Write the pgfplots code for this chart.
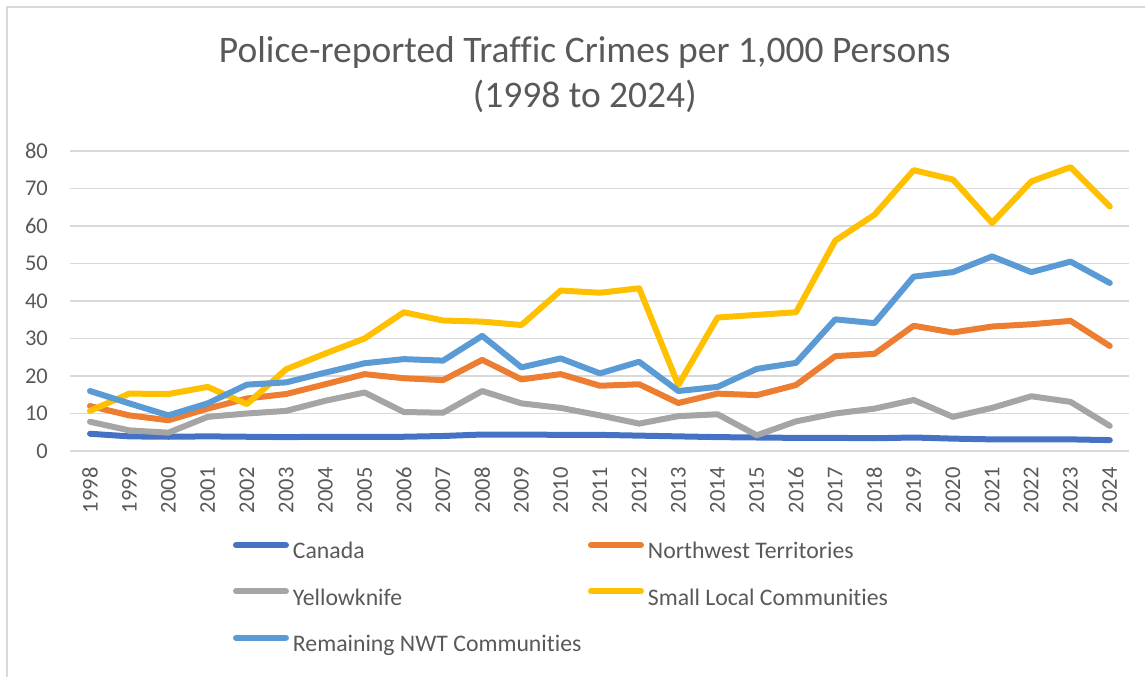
\documentclass[border=0pt]{standalone}
\usepackage{fontspec}
\setmainfont{Carlito}[Ligatures={NoCommon}]
\usepackage{pgfplots}
\pgfplotsset{compat=1.18}
\definecolor{cCan}{HTML}{4472C4}
\definecolor{cNWT}{HTML}{ED7D31}
\definecolor{cYK}{HTML}{A5A5A5}
\definecolor{cSLC}{HTML}{FFC000}
\definecolor{cRem}{HTML}{5B9BD5}
\definecolor{txt}{HTML}{595959}
\definecolor{grd}{HTML}{D9D9D9}
\begin{document}
\begin{tikzpicture}
\useasboundingbox (0,0) rectangle (458pt,270.8pt);
\draw[grd, line width=0.5pt] (2.8pt,0) -- (2.8pt,268pt) -- (458pt,268pt);
\node[anchor=base, text=txt, font=\fontsize{15}{18}\selectfont, inner sep=0pt] at (233.9pt,245.6pt) {Police-reported Traffic Crimes per 1,000 Persons};
\node[anchor=base, text=txt, font=\fontsize{15}{18}\selectfont, inner sep=0pt] at (233.9pt,227.6pt) {(1998 to 2024)};
\begin{axis}[
  at={(28.16pt,90.4pt)}, anchor=south west,
  scale only axis, width=423.6pt, height=120pt,
  xmin=1997.5, xmax=2024.5, ymin=0, ymax=80,
  xtick={1998,1999,...,2024}, ytick={0,10,...,80},
  axis line style={draw=none},
  major tick length=0pt,
  ymajorgrids, grid style={grd, line width=0.5pt},
  /pgf/number format/assume math mode=true,
  /pgf/number format/1000 sep={},
  tick label style={text=txt, font=\fontsize{9}{11}\selectfont},
  yticklabel style={anchor=east, inner sep=0pt},
  yticklabel shift=8.8pt,
  xticklabel style={rotate=90, anchor=east, inner sep=0pt},
  xticklabel shift=6.4pt,
  legend columns=2,
  legend cell align=left,
  legend style={draw=none, fill=none, inner sep=0pt, outer sep=0pt,
    at={(0.1535,-0.303)}, anchor=north west,
    font=\fontsize{9.5}{11}\selectfont, text=txt,
    nodes={inner sep=0pt, text height=6.8pt, text depth=2pt},
    row sep=9.7pt,
    /tikz/every odd column/.append style={column sep=1.6pt},
    /tikz/every even column/.append style={column sep=2.6pt}},
  legend image code/.code={\draw[#1, line width=2.4pt, line cap=round] (1.2pt,3.1pt) -- (21.2pt,3.1pt);},
  every axis plot/.append style={line width=2.4pt, line join=round, line cap=round, no markers},
]
\addplot[cCan] coordinates {(1998,4.6)(1999,3.9)(2000,3.8)(2001,3.9)(2002,3.8)(2003,3.7)(2004,3.8)(2005,3.8)(2006,3.8)(2007,4.0)(2008,4.4)(2009,4.4)(2010,4.3)(2011,4.3)(2012,4.1)(2013,3.9)(2014,3.7)(2015,3.6)(2016,3.5)(2017,3.5)(2018,3.4)(2019,3.6)(2020,3.3)(2021,3.1)(2022,3.1)(2023,3.1)(2024,2.9)};
\addlegendentry{Canada}
\addplot[cNWT] coordinates {(1998,12.0)(1999,9.5)(2000,8.2)(2001,11.3)(2002,14.0)(2003,15.2)(2004,17.8)(2005,20.5)(2006,19.4)(2007,18.9)(2008,24.3)(2009,19.1)(2010,20.5)(2011,17.4)(2012,17.8)(2013,12.8)(2014,15.3)(2015,14.9)(2016,17.6)(2017,25.3)(2018,25.9)(2019,33.4)(2020,31.6)(2021,33.2)(2022,33.8)(2023,34.7)(2024,28.0)};
\addlegendentry{Northwest Territories}
\addplot[cYK] coordinates {(1998,7.8)(1999,5.5)(2000,4.9)(2001,9.1)(2002,10.0)(2003,10.7)(2004,13.4)(2005,15.6)(2006,10.4)(2007,10.2)(2008,16.0)(2009,12.7)(2010,11.5)(2011,9.5)(2012,7.3)(2013,9.3)(2014,9.8)(2015,4.2)(2016,7.9)(2017,10.0)(2018,11.3)(2019,13.6)(2020,9.1)(2021,11.5)(2022,14.6)(2023,13.1)(2024,6.7)};
\addlegendentry{Yellowknife}
\addplot[cSLC] coordinates {(1998,10.7)(1999,15.3)(2000,15.2)(2001,17.1)(2002,12.5)(2003,21.8)(2004,26.0)(2005,30.0)(2006,37.0)(2007,34.8)(2008,34.5)(2009,33.6)(2010,42.8)(2011,42.2)(2012,43.4)(2013,17.6)(2014,35.6)(2015,36.3)(2016,37.0)(2017,56.1)(2018,63.0)(2019,74.9)(2020,72.4)(2021,60.8)(2022,71.9)(2023,75.7)(2024,65.2)};
\addlegendentry{Small Local Communities}
\addplot[cRem] coordinates {(1998,16.0)(1999,12.7)(2000,9.5)(2001,12.7)(2002,17.7)(2003,18.3)(2004,20.9)(2005,23.4)(2006,24.5)(2007,24.1)(2008,30.7)(2009,22.3)(2010,24.7)(2011,20.7)(2012,23.8)(2013,16.0)(2014,17.1)(2015,21.9)(2016,23.5)(2017,35.1)(2018,34.1)(2019,46.5)(2020,47.7)(2021,51.9)(2022,47.7)(2023,50.5)(2024,44.8)};
\addlegendentry{Remaining NWT Communities}
\end{axis}
\end{tikzpicture}
\end{document}
